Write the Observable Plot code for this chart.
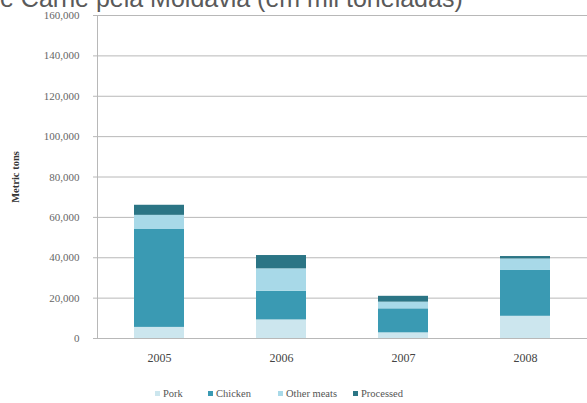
<!DOCTYPE html>
<html>
<head>
<meta charset="utf-8">
<script src="https://cdn.jsdelivr.net/npm/d3@7"></script>
<script src="https://cdn.jsdelivr.net/npm/@observablehq/plot@0.6"></script>
<style>
  html, body { margin: 0; padding: 0; background: #fff; }
  #wrap { position: relative; width: 587px; height: 403px; overflow: hidden; }
  #title { position: absolute; left: 0px; top: -9px; font-family: "Liberation Sans", Arial, sans-serif; font-size: 25px; line-height: 14px; color: #5a5a5a; white-space: nowrap; z-index: 2; }
  #chart { position: absolute; left: 0; top: 0; }
  #legend { position: absolute; left: 0; top: 387px; width: 587px; height: 16px; font-family: "Liberation Serif", serif; font-size: 10.5px; color: #555; }
  .item { position: absolute; top: 1px; white-space: nowrap; }
  .sw { display: inline-block; width: 5px; height: 5px; margin-right: 3px; vertical-align: 1px; }
</style>
</head>
<body>
<div id="wrap">
  <div id="title">e Carne pela Moldávia (em mil toneladas)</div>
  <div id="chart"></div>
  <div id="legend"></div>
</div>
<script>
const years = ["2005", "2006", "2007", "2008"];
const seriesNames = ["Pork", "Chicken", "Other meats", "Processed"];
const pork = [5500, 9200, 2800, 11000];
const chicken = [48500, 14200, 11900, 22700];
const otherMeats = [7000, 11100, 3300, 5700];
const processed = [5000, 6600, 2900, 1200];
const yTicks = [0, 20000, 40000, 60000, 80000, 100000, 120000, 140000, 160000];
const colors = ["#cce6ee", "#3a9ab3", "#a8d9e8", "#2b7585"];

const seriesValues = [pork, chicken, otherMeats, processed];
const data = [];
years.forEach((yr, i) => {
  seriesNames.forEach((s, j) => data.push({year: yr, series: s, value: seriesValues[j][i]}));
});

const chart = Plot.plot({
  width: 587,
  height: 372,
  marginTop: 15,
  marginBottom: 34,
  marginLeft: 97,
  marginRight: 0,
  style: {fontFamily: "'Liberation Serif', serif", background: "transparent"},
  x: {domain: years, paddingInner: 0.59, paddingOuter: 0.295, label: null},
  y: {domain: [0, 160000], label: null},
  color: {domain: seriesNames, range: colors},
  marks: [
    Plot.ruleY(yTicks, {stroke: "#b8b8b8", strokeWidth: 1}),
    Plot.barY(data, {x: "year", y: "value", fill: "series", order: seriesNames}),
    Plot.axisY({ticks: yTicks, tickFormat: d3.format(","), tickSize: 4, tickPadding: 14, stroke: "#b8b8b8", fill: "#666", fontSize: 11, label: null}),
    Plot.axisX({tickSize: 0, tickPadding: 15, fill: "#444", fontSize: 12, label: null}),
    Plot.frame({anchor: "left", stroke: "#b8b8b8"}),
    Plot.text(["Metric tons"], {frameAnchor: "left", dx: -82, rotate: -90, textAnchor: "middle", text: d => d, fontWeight: "bold", fontSize: 10.5, fill: "#333"})
  ]
});
document.getElementById("chart").appendChild(chart);

const legendPos = [155, 208, 278, 353];
const legend = document.getElementById("legend");
seriesNames.forEach((s, j) => {
  const el = document.createElement("span");
  el.className = "item";
  el.style.left = legendPos[j] + "px";
  const sw = document.createElement("span");
  sw.className = "sw";
  sw.style.background = colors[j];
  el.appendChild(sw);
  el.appendChild(document.createTextNode(s));
  legend.appendChild(el);
});
</script>
</body>
</html>
